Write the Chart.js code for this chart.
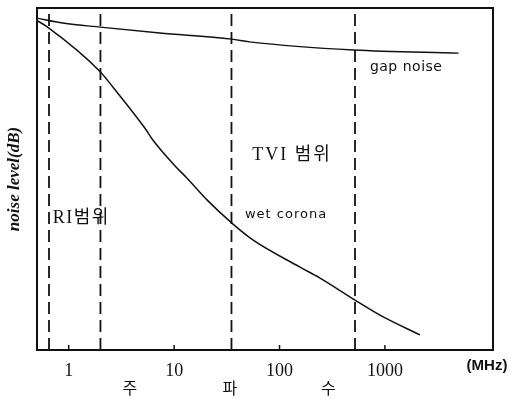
<!DOCTYPE html>
<html>
<head>
<meta charset="utf-8">
<script src="https://cdn.jsdelivr.net/npm/chart.js@4"></script>
<style>
  html, body { margin: 0; padding: 0; background: #fff; }
  #chart { display: block; }
</style>
</head>
<body>
<canvas id="chart" width="511" height="399"></canvas>
<script>
// --- data (x in MHz, y in relative dB 0..100) ---
const gapFreq = [0.49, 0.88, 2, 7.3, 35, 52, 500, 5000];
const gapLevel = [97.1, 95.6, 94.4, 92.7, 90.9, 90.1, 87.7, 86.8];

const wetFreq = [0.49, 0.63, 2, 2.62, 5.27, 6.28, 10, 13.2, 20.5, 35.3, 55.8, 155, 240, 520, 897, 2150];
const wetLevel = [96.5, 94.4, 81.3, 76.9, 64.9, 61.4, 54.1, 50.3, 43.9, 37.1, 32.2, 24.3, 21.1, 14.6, 10.2, 4.4];

// dashed range boundaries (MHz)
const bandEdges = [0.65, 2, 35, 520];

// x tick values
const tickValues = [1, 10, 100, 1000];

// text annotations (position in data units)
const notes = [
    { text: 'gap noise', x: 720, y: 82.5, font: '14px "DejaVu Sans", sans-serif', spacing: '0.5px' },
    { text: 'TVI 범위', x: 55, y: 57, font: '18px "Liberation Serif", "Noto Sans CJK KR", serif', spacing: '2px' },
    { text: 'RI범위', x: 0.705, y: 38.6, font: '18px "Liberation Serif", "Noto Sans CJK KR", serif', spacing: '1.5px' },
    { text: 'wet corona', x: 47, y: 39.5, font: '13px "DejaVu Sans", sans-serif', spacing: '1px' }
];
const axisWords = [
    { text: '주', x: 3.8 },
    { text: '파', x: 33.8 },
    { text: '수', x: 290 }
];

const toPoints = (xs, ys) => xs.map((x, i) => ({ x: x, y: ys[i] }));

const datasets = [
    {
        data: toPoints(gapFreq, gapLevel),
        borderColor: '#111', borderWidth: 1.4,
        pointRadius: 0, cubicInterpolationMode: 'monotone'
    },
    {
        data: toPoints(wetFreq, wetLevel),
        borderColor: '#111', borderWidth: 1.5,
        pointRadius: 0, cubicInterpolationMode: 'monotone'
    }
];
bandEdges.forEach(f => {
    datasets.push({
        data: [{ x: f, y: 0 }, { x: f, y: 100 }],
        borderColor: '#111', borderWidth: 1.8,
        borderDash: [12, 6], pointRadius: 0
    });
});

// frame, tick marks and free text
const decorations = {
    id: 'decorations',
    afterDraw(chart) {
        const ctx = chart.ctx;
        const area = chart.chartArea;
        const xs = chart.scales.x;
        const ys = chart.scales.y;
        ctx.save();
        ctx.strokeStyle = '#111';
        ctx.lineWidth = 2;
        ctx.strokeRect(area.left, area.top, area.right - area.left, area.bottom - area.top);

        ctx.lineWidth = 1.5;
        tickValues.forEach(v => {
            const px = xs.getPixelForValue(v);
            ctx.beginPath();
            ctx.moveTo(px, area.bottom);
            ctx.lineTo(px, area.bottom - 5);
            ctx.stroke();
        });

        ctx.fillStyle = '#111';
        ctx.textBaseline = 'middle';
        ctx.textAlign = 'left';
        notes.forEach(n => {
            ctx.font = n.font;
            ctx.letterSpacing = n.spacing;
            ctx.fillText(n.text, xs.getPixelForValue(n.x), ys.getPixelForValue(n.y));
        });
        ctx.letterSpacing = '0px';

        ctx.textAlign = 'center';
        ctx.font = '16px "Noto Sans CJK KR", sans-serif';
        axisWords.forEach(w => {
            ctx.fillText(w.text, xs.getPixelForValue(w.x), area.bottom + 38);
        });

        ctx.font = 'bold 15px "Liberation Sans", sans-serif';
        ctx.fillText('(MHz)', area.right - 6, area.bottom + 16);
        ctx.restore();
    }
};

new Chart(document.getElementById('chart'), {
    type: 'line',
    data: { datasets: datasets },
    options: {
        responsive: false,
        animation: false,
        devicePixelRatio: 1,
        layout: { padding: { top: 8, right: 18, left: 0, bottom: 0 } },
        plugins: { legend: { display: false }, tooltip: { enabled: false } },
        scales: {
            x: {
                type: 'logarithmic',
                min: 0.5,
                max: 10600,
                grid: { display: false },
                border: { display: true, color: '#111', width: 2 },
                ticks: {
                    color: '#111',
                    font: { family: '"Liberation Serif", serif', size: 18 },
                    padding: 2,
                    autoSkip: false,
                    maxRotation: 0,
                    callback: v => String(v)
                },
                afterBuildTicks: scale => { scale.ticks = tickValues.map(v => ({ value: v })); },
                afterFit: scale => { scale.height = 49; }
            },
            y: {
                min: 0,
                max: 100,
                grid: { display: false },
                border: { display: true, color: '#111', width: 2 },
                ticks: { display: false },
                title: {
                    display: true,
                    text: 'noise level(dB)',
                    color: '#111',
                    font: { family: '"Liberation Serif", serif', size: 17, style: 'italic', weight: 'bold' },
                    padding: { top: 4, bottom: 0 }
                },
                afterFit: scale => { scale.width = 37; }
            }
        }
    },
    plugins: [decorations]
});
</script>
</body>
</html>
